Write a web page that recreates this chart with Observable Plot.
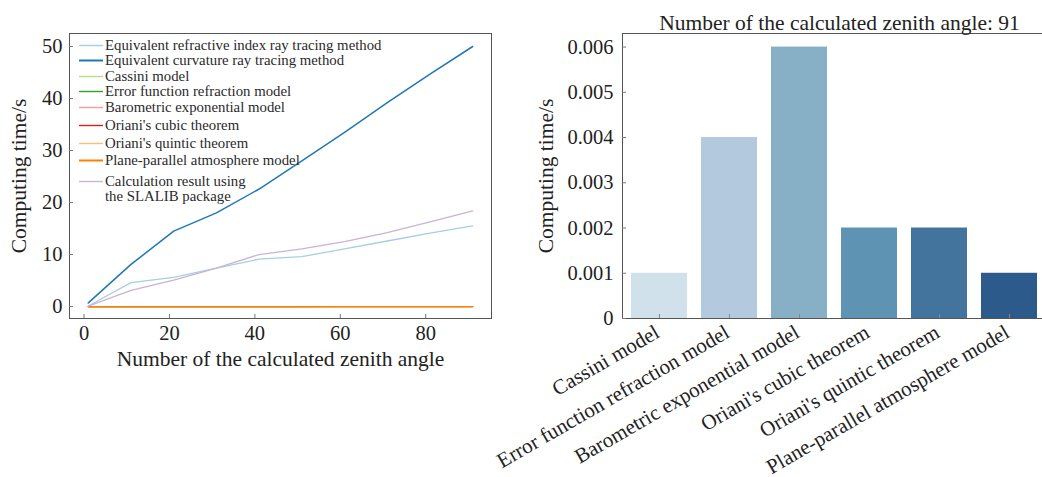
<!DOCTYPE html>
<html>
<head>
<meta charset="utf-8">
<script src="https://cdn.jsdelivr.net/npm/d3@7"></script>
<script src="https://cdn.jsdelivr.net/npm/@observablehq/plot@0.6"></script>
<style>
  html, body { margin: 0; padding: 0; background: #fff; overflow: hidden; width: 1042px; height: 477px; }
  #left { position: absolute; left: 0; top: 0; width: 520px; }
  #right { position: absolute; left: 520px; top: 0; width: 560px; }
  #left svg, #right svg { max-width: none !important; }
  #legend { position: absolute; left: 0; top: 0; font-family: "Liberation Serif", serif; font-size: 14.8px; color: #2a2a2a; }
  #legend .row { position: absolute; left: 79px; display: flex; align-items: flex-start; line-height: 15px; white-space: nowrap; }
  #legend svg { flex: none; }
  #legend .lbl { margin-left: 2px; }
</style>
</head>
<body>
<div id="left"></div>
<div id="right"></div>
<div id="legend"></div>
<script>
// Number of zenith angles computed in each run
const zenithCounts = [1, 11, 21, 31, 41, 51, 61, 71, 81, 91];

// Computing time (s) per method
const refractiveIndexRayTracing = [0.1, 4.6, 5.6, 7.4, 9.1, 9.6, 11.1, 12.6, 14.1, 15.5];
const curvatureRayTracing       = [0.7, 8.1, 14.5, 18.0, 22.6, 28.0, 33.5, 39.2, 44.7, 50.0];
const cassiniModel              = [0, 0.0001, 0.0001, 0.0003, 0.0004, 0.0005, 0.0006, 0.0007, 0.0009, 0.001];
const errorFunctionModel        = [0, 0.0005, 0.0009, 0.0014, 0.0018, 0.0022, 0.0027, 0.0031, 0.0036, 0.004];
const barometricModel           = [0, 0.0007, 0.0014, 0.0021, 0.0027, 0.0034, 0.0040, 0.0047, 0.0053, 0.006];
const cubicTheorem              = [0, 0.0002, 0.0005, 0.0007, 0.0009, 0.0011, 0.0013, 0.0016, 0.0018, 0.002];
const quinticTheorem            = [0, 0.0002, 0.0005, 0.0007, 0.0009, 0.0011, 0.0014, 0.0016, 0.0018, 0.002];
const planeParallelModel        = [0, 0.0001, 0.0002, 0.0003, 0.0004, 0.0005, 0.0007, 0.0008, 0.0009, 0.001];
const slalibResult              = [0.1, 3.1, 5.1, 7.4, 10.0, 11.1, 12.5, 14.2, 16.3, 18.4];

const methodNames = [
  "Equivalent refractive index ray tracing method",
  "Equivalent curvature ray tracing method",
  "Cassini model",
  "Error function refraction model",
  "Barometric exponential model",
  "Oriani's cubic theorem",
  "Oriani's quintic theorem",
  "Plane-parallel atmosphere model",
  "Calculation result using\nthe SLALIB package"
];
const methodSeries = [
  refractiveIndexRayTracing, curvatureRayTracing, cassiniModel, errorFunctionModel,
  barometricModel, cubicTheorem, quinticTheorem, planeParallelModel, slalibResult
];
const methodColors = ["#a6cee3", "#1f78b4", "#b2df8a", "#33a02c", "#fb9a99", "#e31a1c", "#fdbf6f", "#ff7f00", "#cab2d6"];
const methodWidths = [1.3, 1.5, 1.2, 1.2, 1.2, 1.2, 1.2, 1.3, 1.3];

const xTickValues = [0, 20, 40, 60, 80];
const yTickValues = [0, 10, 20, 30, 40, 50];

// Bar chart: the fast closed-form models at 91 zenith angles
const barModels = methodNames.slice(2, 8);
const barTimes = methodSeries.slice(2, 8).map(s => s[s.length - 1]);
const barColors = ["#d1e1ec", "#b3c9dd", "#87b0c6", "#5f93b3", "#43749d", "#2b5a8b"];
const barTickValues = [0, 0.001, 0.002, 0.003, 0.004, 0.005, 0.006];
const barTitle = "Number of the calculated zenith angle: 91";

const serif = "Liberation Serif, Times New Roman, serif";

// ---------- left: computing time vs. number of zenith angles ----------
const lineRows = methodNames.flatMap((name, i) =>
  zenithCounts.map((n, j) => ({method: name, n, t: methodSeries[i][j]})));

const leftW = 520, leftH = 380, lM = {l: 69, r: 29, t: 33, b: 62};
const leftFrameW = leftW - lM.l - lM.r, leftFrameH = leftH - lM.t - lM.b;

const left = Plot.plot({
  width: leftW, height: leftH,
  marginLeft: lM.l, marginRight: lM.r, marginTop: lM.t, marginBottom: lM.b,
  style: {fontFamily: serif, fontSize: "20.5px", color: "#222", background: "transparent"},
  x: {domain: [-3.4, 95.4], ticks: xTickValues, tickSize: 0, tickPadding: 7,
      label: "Number of the calculated zenith angle", labelAnchor: "center", labelOffset: 47, labelArrow: "none"},
  y: {domain: [-2.3, 52.5], ticks: yTickValues, tickSize: 0, tickPadding: 7,
      label: "Computing time/s", labelAnchor: "center", labelOffset: 59, labelArrow: "none"},
  marks: [
    Plot.frame({stroke: "#555"}),
    Plot.tickX(xTickValues, {x: d => d, insetTop: leftFrameH - 4, stroke: "#777"}),
    Plot.tickY(yTickValues, {y: d => d, insetRight: leftFrameW - 4, stroke: "#777"}),
    ...methodNames.map((name, i) =>
      Plot.line(lineRows.filter(r => r.method === name),
        {x: "n", y: "t", stroke: methodColors[i], strokeWidth: methodWidths[i]}))
  ]
});
left.querySelectorAll("[aria-label$='axis label']").forEach(g => g.setAttribute("font-size", "21.5"));
document.getElementById("left").append(left);

// legend inside the left frame
const legendRowY = [45, 60.5, 76, 91.5, 107, 125, 143, 160.5, 181];
const legend = document.getElementById("legend");
methodNames.forEach((name, i) => {
  const row = document.createElement("div");
  row.className = "row";
  row.style.top = (legendRowY[i] - 7.5) + "px";
  const sw = d3.create("svg").attr("width", 24).attr("height", 15);
  sw.append("line").attr("x1", 0).attr("x2", 24).attr("y1", 7.5).attr("y2", 7.5)
    .attr("stroke", methodColors[i]).attr("stroke-width", i === 1 || i === 7 ? 2 : 1.4);
  row.append(sw.node());
  const lbl = document.createElement("div");
  lbl.className = "lbl";
  lbl.innerHTML = name.split("\n").join("<br>");
  row.append(lbl);
  legend.append(row);
});

// ---------- right: bar chart of the fast models ----------
const barRows = barModels.map((m, i) => ({model: m, time: barTimes[i]}));
const rightW = 540, rightH = 477, rM = {l: 102, r: 14, t: 33, b: 159};
const rightFrameW = rightW - rM.l - rM.r, rightFrameH = rightH - rM.t - rM.b;

const right = Plot.plot({
  width: rightW, height: rightH,
  marginLeft: rM.l, marginRight: rM.r, marginTop: rM.t, marginBottom: rM.b,
  style: {fontFamily: serif, fontSize: "20.5px", color: "#222", background: "transparent", overflow: "visible"},
  x: {domain: barModels, paddingInner: 0.2, paddingOuter: 0.11, label: null},
  y: {domain: [0, 0.0063], ticks: barTickValues, tickFormat: d => d === 0 ? "0" : d3.format(".3f")(d),
      tickSize: 0, tickPadding: 9,
      label: "Computing time/s", labelAnchor: "center", labelOffset: 85, labelArrow: "none"},
  color: {domain: barModels, range: barColors},
  marks: [
    Plot.barY(barRows, {x: "model", y: "time", fill: "model"}),
    Plot.frame({stroke: "#555"}),
    Plot.axisX({tickRotate: -30, tickSize: 0, tickPadding: 12, dx: -2, fontSize: 21, label: null}),
    Plot.tickX(barModels, {x: d => d, insetTop: rightFrameH - 4, stroke: "#888"}),
    Plot.tickY(barTickValues, {y: d => d, insetRight: rightFrameW - 4, stroke: "#777"}),
    Plot.text([barTitle], {frameAnchor: "top", dy: -19, dx: 5, fontSize: 21.5, fill: "#222"})
  ]
});
right.querySelectorAll("[aria-label='y-axis label']").forEach(g => g.setAttribute("font-size", "21.5"));
document.getElementById("right").append(right);
</script>
</body>
</html>
